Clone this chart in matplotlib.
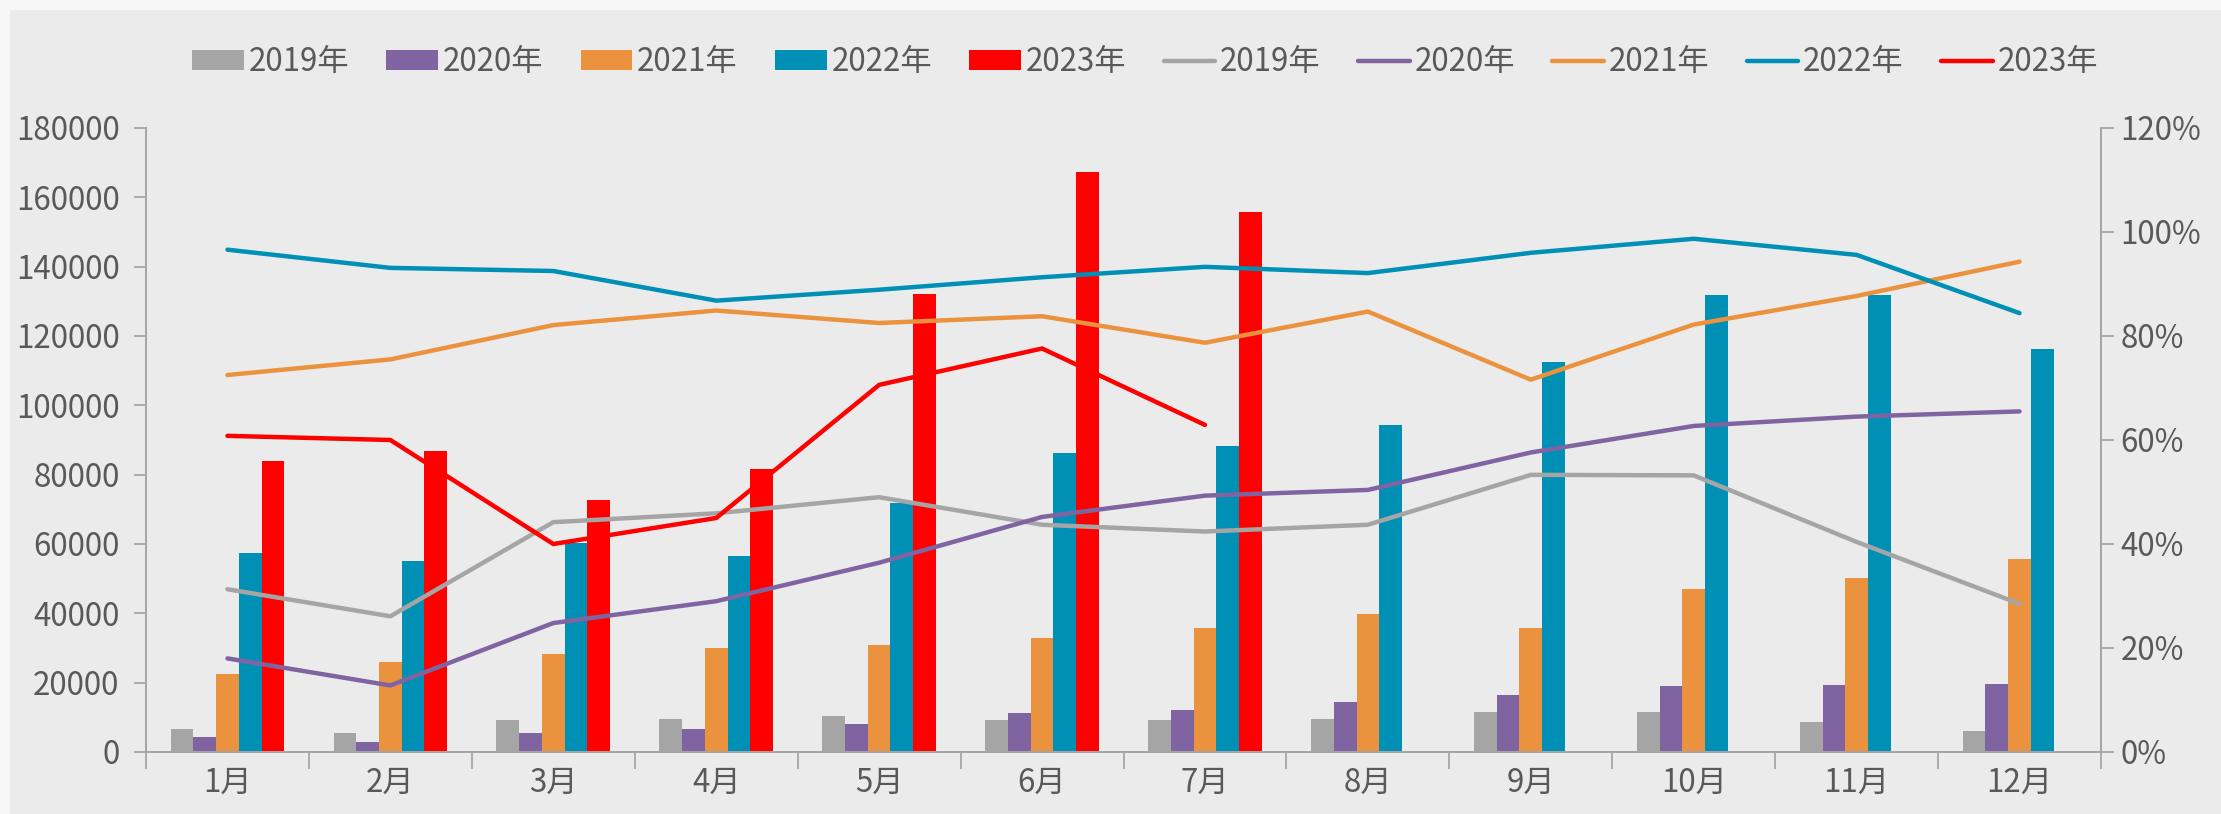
import matplotlib.pyplot as plt
import numpy as np
from matplotlib.patches import Rectangle
from matplotlib.ticker import FuncFormatter, MultipleLocator

plt.rcParams['font.family'] = ['Noto Sans CJK SC', 'DejaVu Sans']

months = ["1月", "2月", "3月", "4月", "5月", "6月", "7月", "8月", "9月", "10月", "11月", "12月"]
years = ["2019年", "2020年", "2021年", "2022年", "2023年"]
colors = ["#A5A5A5", "#8064A2", "#EB923F", "#0090B5", "#FF0000"]

# monthly volume (bars, left axis)
bar_2019 = [6600, 5400, 9300, 9600, 10300, 9300, 9100, 9400, 11400, 11400, 8700, 6000]
bar_2020 = [4200, 3000, 5500, 6600, 8200, 11200, 12000, 14400, 16300, 18900, 19300, 19600]
bar_2021 = [22500, 25900, 28200, 29900, 31000, 32800, 35900, 39700, 35900, 47000, 50200, 55800]
bar_2022 = [57300, 55100, 60300, 56600, 71900, 86200, 88300, 94200, 112600, 131900, 131700, 116300]
bar_2023 = [83800, 86700, 72600, 81600, 132200, 167400, 155800]

# rates (lines, right axis), in %
line_2019 = [31.3, 26.1, 44.2, 45.9, 49.0, 43.7, 42.4, 43.7, 53.3, 53.2, 40.4, 28.5]
line_2020 = [18.0, 12.8, 24.8, 29.0, 36.4, 45.2, 49.3, 50.4, 57.6, 62.7, 64.5, 65.5]
line_2021 = [72.5, 75.5, 82.1, 84.9, 82.5, 83.8, 78.7, 84.7, 71.6, 82.2, 87.7, 94.3]
line_2022 = [96.6, 93.1, 92.5, 86.8, 88.9, 91.3, 93.3, 92.1, 96.0, 98.7, 95.6, 84.4]
line_2023 = [60.8, 60.0, 40.0, 45.0, 70.6, 77.6, 62.9]

bars = [bar_2019, bar_2020, bar_2021, bar_2022, bar_2023]
lines = [line_2019, line_2020, line_2021, line_2022, line_2023]

text_color = "#595959"
axis_color = "#A6A6A6"
fs = 22.5

fig = plt.figure(figsize=(22.21, 8.14), dpi=100, facecolor="#F7F7F7")
fig.patches.append(Rectangle((10 / 2221, 0), 1, 1 - 10 / 814, transform=fig.transFigure,
                             facecolor="#EBEBEB", edgecolor="none", zorder=-5))

ax = fig.add_axes([146 / 2221, 62 / 814, (2101 - 146) / 2221, (752 - 128) / 814])
ax.set_facecolor("none")
ax2 = ax.twinx()

x = np.arange(len(months))
w = 0.1395
handles = []
for i, (vals, c, lab) in enumerate(zip(bars, colors, years)):
    h = ax.bar(x[:len(vals)] + (i - 2) * w, vals, width=w, color=c, label=lab, zorder=2)
    handles.append(h)
for vals, c, lab in zip(lines, colors, years):
    h, = ax2.plot(x[:len(vals)], vals, color=c, lw=3.2, label=lab, solid_capstyle="round")
    handles.append(h)

ax.set_xlim(-0.5, 11.5)
ax.set_ylim(0, 180000)
ax2.set_ylim(0, 120)
ax.yaxis.set_major_locator(MultipleLocator(20000))
ax2.yaxis.set_major_locator(MultipleLocator(20))
ax2.yaxis.set_major_formatter(FuncFormatter(lambda v, p: f"{v:.0f}%"))

ax.set_xticks(np.arange(-0.5, 12, 1))
ax.set_xticklabels([])
ax.set_xticks(x, minor=True)
ax.set_xticklabels(months, minor=True)
ax.tick_params(axis="x", which="major", length=12, width=1.3, color=axis_color, direction="out")
ax.tick_params(axis="x", which="minor", length=0, pad=11, labelsize=fs, labelcolor=text_color)
ax.tick_params(axis="y", length=9, width=1.3, color=axis_color, labelsize=fs,
               labelcolor=text_color, pad=10)
ax2.tick_params(axis="y", length=9, width=1.3, color=axis_color, labelsize=fs,
                labelcolor=text_color, pad=5)

for a in (ax, ax2):
    a.spines["top"].set_visible(False)
    for s in ("left", "right", "bottom"):
        a.spines[s].set_color(axis_color)
        a.spines[s].set_linewidth(1.3)

fig.legend(handles=handles, loc="center", bbox_to_anchor=(1145 / 2221, 1 - 62 / 814), ncol=10,
           frameon=False, fontsize=fs, labelcolor=text_color, handlelength=1.66,
           handletextpad=0.15, columnspacing=1.19, handleheight=0.6)

fig.savefig("out.png", dpi=100, facecolor=fig.get_facecolor())
